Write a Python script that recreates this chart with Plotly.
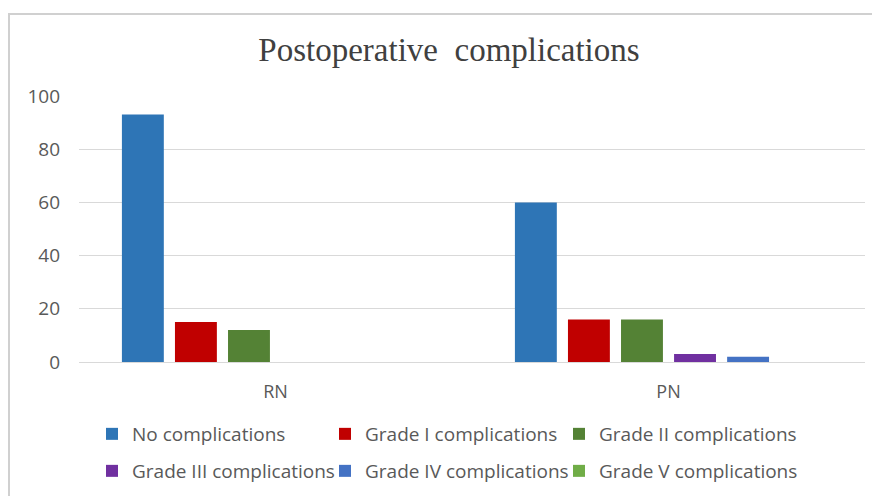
import plotly.graph_objects as go

categories = ["RN", "PN"]
series_names = [
    "No complications",
    "Grade I complications",
    "Grade II complications",
    "Grade III complications",
    "Grade IV complications",
    "Grade V complications",
]
no_compl = [93, 60]
grade_1 = [15, 16]
grade_2 = [12, 16]
grade_3 = [0, 3]
grade_4 = [0, 2]
grade_5 = [0, 0]
series_values = [no_compl, grade_1, grade_2, grade_3, grade_4, grade_5]
colors = ["#2E75B6", "#C00000", "#548235", "#7030A0", "#4472C4", "#70AD47"]
y_ticks = [0, 20, 40, 60, 80, 100]

legend_ids = ["legend", "legend2", "legend3", "legend4", "legend5", "legend6"]

fig = go.Figure()
for name, vals, c, lg in zip(series_names, series_values, colors, legend_ids):
    fig.add_trace(go.Bar(x=categories, y=vals, name=name, marker_color=c,
                         marker_line_width=0, legend=lg))

# page is rendered with an 8px body margin; work in page coordinates
OFF = 8
W, H = 880 - OFF, 496 - OFF
L = 79 - OFF
R = W - (865 - OFF)
T = 96 - OFF
B = H - (362 - OFF)
pw, ph = W - L - R, H - T - B

def px_x(p):
    return (p - OFF - L) / pw

def px_y(p):
    return (H - B - (p - OFF)) / ph

leg_common = dict(orientation="h", xanchor="left", yanchor="middle",
                  font=dict(family="Open Sans", size=19, color="#595959"),
                  bgcolor="rgba(0,0,0,0)", itemwidth=30)

leg_x = [92, 325, 559]
leg_y = [434, 471]
legends = {}
for k, lg in enumerate(legend_ids):
    legends[lg] = dict(x=px_x(leg_x[k % 3]), y=px_y(leg_y[k // 3]), **leg_common)

fig.update_layout(
    width=W, height=H,
    margin=dict(l=L, r=R, t=T, b=B, autoexpand=False),
    paper_bgcolor="white", plot_bgcolor="white",
    barmode="group", bargap=0.19, bargroupgap=0.21,
    title=dict(text="Postoperative  complications", x=(449 - OFF) / W, xanchor="center",
               y=1 - (49 - OFF) / H, yanchor="middle",
               font=dict(family="Liberation Serif", size=33, color="#404040")),
    font=dict(family="Open Sans", color="#595959"),
    xaxis=dict(showgrid=False, showline=False, ticks="",
               tickfont=dict(size=18, color="#595959"), ticklabelstandoff=17),
    yaxis=dict(range=[0, 100], tickvals=y_ticks, showgrid=True, gridcolor="#D9D9D9",
               gridwidth=1, zeroline=True, zerolinecolor="#D9D9D9", zerolinewidth=1,
               ticks="", tickfont=dict(size=19, color="#595959"), ticklabelstandoff=18),
    shapes=[dict(type="rect", xref="paper", yref="paper",
                 x0=px_x(9), x1=px_x(890), y0=px_y(505), y1=px_y(14),
                 line=dict(color="#D0D0D0", width=2), fillcolor="rgba(0,0,0,0)",
                 layer="below")],
    showlegend=True,
    **legends,
)

fig.write_html("out.html")
